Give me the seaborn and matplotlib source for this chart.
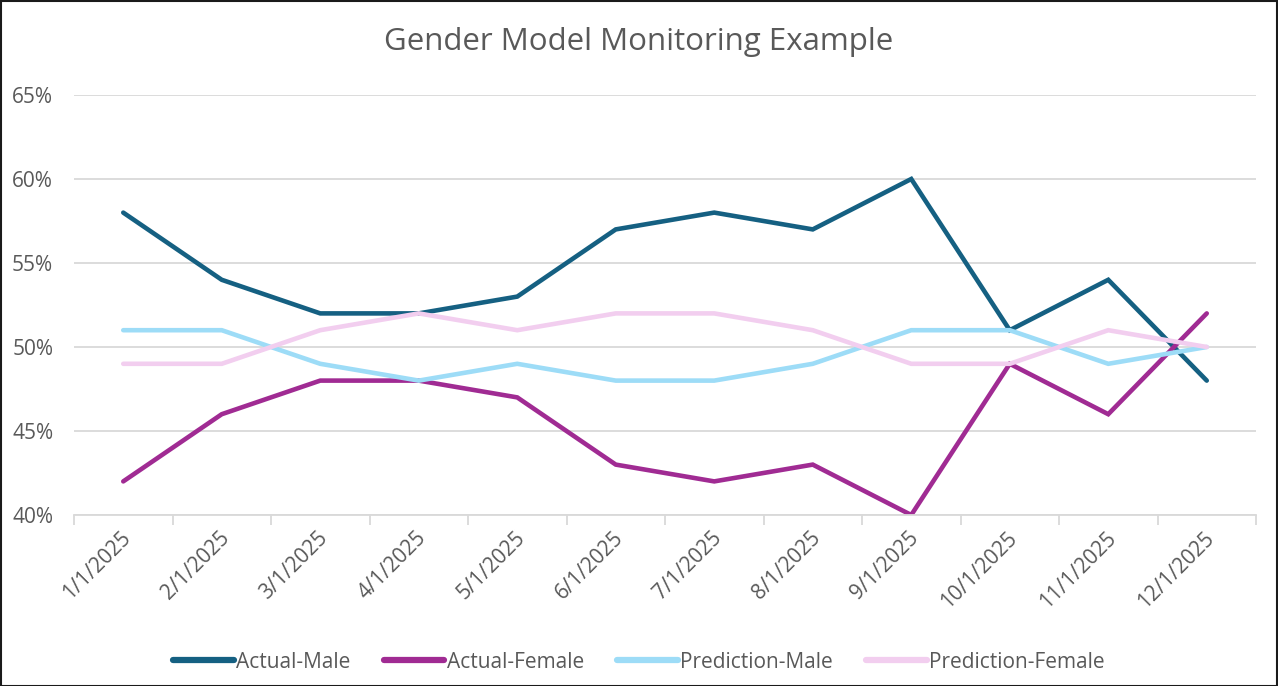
import matplotlib
matplotlib.use("Agg")
import matplotlib.pyplot as plt
from matplotlib.patches import Rectangle
from matplotlib.ticker import FixedLocator, PercentFormatter
import seaborn as sns
import pandas as pd

dates = ["1/1/2025", "2/1/2025", "3/1/2025", "4/1/2025", "5/1/2025", "6/1/2025",
         "7/1/2025", "8/1/2025", "9/1/2025", "10/1/2025", "11/1/2025", "12/1/2025"]
actual_male = [0.58, 0.54, 0.52, 0.52, 0.53, 0.57, 0.58, 0.57, 0.60, 0.51, 0.54, 0.48]
actual_female = [0.42, 0.46, 0.48, 0.48, 0.47, 0.43, 0.42, 0.43, 0.40, 0.49, 0.46, 0.52]
pred_male = [0.51, 0.51, 0.49, 0.48, 0.49, 0.48, 0.48, 0.49, 0.51, 0.51, 0.49, 0.50]
pred_female = [0.49, 0.49, 0.51, 0.52, 0.51, 0.52, 0.52, 0.51, 0.49, 0.49, 0.51, 0.50]
series_names = ["Actual-Male", "Actual-Female", "Prediction-Male", "Prediction-Female"]
colors = ["#156082", "#A02B93", "#9DDCF7", "#F2CEEF"]
title = "Gender Model Monitoring Example"

df = pd.concat([
    pd.DataFrame({"Date": dates, "Value": vals, "Series": name})
    for name, vals in zip(series_names, [actual_male, actual_female, pred_male, pred_female])
])

sns.set_theme(style="white")
plt.rcParams["font.family"] = ["Open Sans", "DejaVu Sans"]
text_color = "#595959"

W, H = 1278, 686
fig = plt.figure(figsize=(W / 100, H / 100), dpi=100)
ax = fig.add_axes([74 / W, (H - 515) / H, (1256 - 74) / W, (515 - 95) / H])

sns.lineplot(data=df, x="Date", y="Value", hue="Series", hue_order=series_names,
             palette=colors, linewidth=3.3, ax=ax, sort=False, legend=True)
for ln in ax.get_lines():
    ln.set_solid_capstyle("round")
    ln.set_solid_joinstyle("miter")

ax.set_xlim(-0.5, len(dates) - 0.5)
ax.set_ylim(0.40, 0.65)
ax.set_yticks([0.40, 0.45, 0.50, 0.55, 0.60, 0.65])
ax.yaxis.set_major_formatter(PercentFormatter(1.0, decimals=0))
ax.grid(axis="y", color="#D9D9D9", linewidth=1.3)
ax.grid(axis="x", visible=False)
for s in ["top", "right", "left"]:
    ax.spines[s].set_visible(False)
ax.spines["bottom"].set_color("#D9D9D9")
ax.spines["bottom"].set_linewidth(1.3)
ax.set_xlabel("")
ax.set_ylabel("")

ax.set_xticks(range(len(dates)))
ax.set_xticklabels(dates, rotation=45, ha="right", va="top", rotation_mode="anchor")
ax.xaxis.set_minor_locator(FixedLocator([i - 0.5 for i in range(len(dates) + 1)]))
ax.tick_params(axis="x", which="major", length=0, pad=9, labelsize=15, labelcolor=text_color)
ax.tick_params(axis="x", which="minor", length=7, width=1.3, color="#D9D9D9", bottom=True)
ax.tick_params(axis="y", length=0, pad=15, labelsize=15, labelcolor=text_color)
for lbl in ax.get_xticklabels():
    lbl.set_transform(lbl.get_transform() + matplotlib.transforms.ScaledTranslation(-0.03, 0, fig.dpi_scale_trans))

fig.text(0.5, (H - 42) / H, title, ha="center", va="center", fontsize=22.5, color=text_color)

handles, labels = ax.get_legend_handles_labels()
ax.legend_.remove()
leg = fig.legend(handles, labels, loc="center", bbox_to_anchor=(0.5, (H - 662) / H),
                 ncol=4, frameon=False, fontsize=15, handlelength=2.9, handletextpad=0.12,
                 columnspacing=1.6, labelcolor=text_color)
for h in leg.get_lines():
    h.set_linewidth(4.5)
    h.set_solid_capstyle("round")

fig.patches.append(Rectangle((0.5 / W, 0.5 / H), 1 - 1.5 / W, 1 - 1.5 / H, transform=fig.transFigure,
                             fill=False, edgecolor="#1a1a1a", linewidth=1.5))

fig.savefig("out.png", dpi=100)
